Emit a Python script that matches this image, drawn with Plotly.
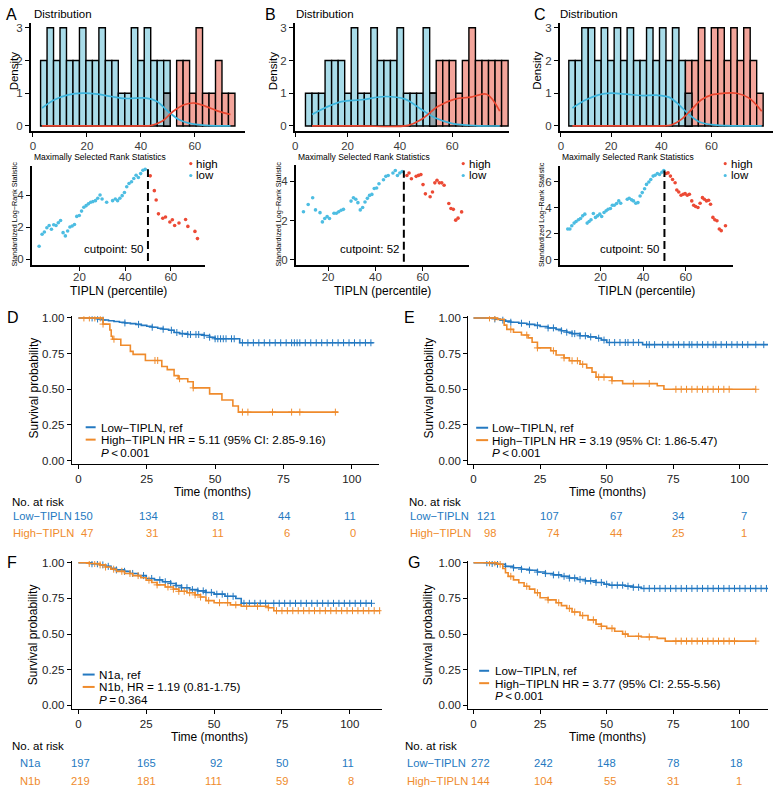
import numpy as np
import plotly.graph_objects as go

W, H = 778, 796
FONT = "Liberation Sans, Arial, Helvetica, sans-serif"

# ---------------- DATA ----------------
# Histograms (bin left edge, bin width, counts per bin)
a_bin_left, a_bin_width = 2.85, 2.4
a_low_counts = [2, 3, 2, 3, 2, 2, 3, 2, 2, 3, 2, 2, 1, 1, 3, 2, 3, 2, 2, 2] + [0] * 10
a_high_counts = [0] * 19 + [1, 0, 2, 2, 1, 3, 1, 1, 2, 1, 1]
b_bin_left, b_bin_width = 3.9, 2.5
b_low_counts = [1, 1, 1, 2, 2, 2, 1, 3, 1, 1, 3, 2, 2, 2, 3, 1, 1, 1, 3, 1] + [0] * 11
b_high_counts = [0] * 19 + [1, 2, 2, 2, 1, 2, 3, 2, 2, 2, 2, 2]
c_bin_left, c_bin_width = 3.17, 2.58
c_low_counts = [2, 2, 3, 3, 2, 3, 2, 3, 2, 3, 2, 2, 3, 2, 3, 2, 3, 2, 1] + [0] * 11
c_high_counts = [0] * 18 + [2, 2, 3, 2, 3, 3, 2, 3, 2, 3, 2, 1]

# Density curves
a_low_kde_x = [3.4, 8, 13, 18.5, 24, 29, 34, 38, 42, 46, 50, 54, 58, 64, 73.2]
a_low_kde_y = [0.55, 0.8, 0.95, 1.0, 0.97, 0.9, 0.84, 0.85, 0.85, 0.75, 0.45, 0.2, 0.08, 0.02, 0.0]
a_high_kde_x = [3.4, 20, 40, 44, 48, 52, 56, 60, 64, 68, 73.2]
a_high_kde_y = [0, 0, 0, 0.02, 0.15, 0.45, 0.65, 0.7, 0.6, 0.47, 0.35]
b_low_kde_x = [6.4, 16.6, 25.5, 34.4, 42.0, 48.3, 53.4, 59.8, 68.7, 78.2]
b_low_kde_y = [0.35, 0.72, 0.8, 0.9, 0.82, 0.5, 0.25, 0.08, 0.01, 0.0]
b_high_kde_x = [6.4, 24.2, 43.2, 48.2, 54.7, 61.0, 67.2, 73.2, 78.2]
b_high_kde_y = [0, 0, 0.02, 0.2, 0.6, 0.82, 0.88, 0.97, 0.45]
c_low_kde_x = [4.6, 10, 15, 20, 26, 32, 38, 43, 47, 51, 55, 60, 66, 80]
c_low_kde_y = [0.55, 0.8, 0.95, 1.0, 0.97, 0.93, 0.94, 0.88, 0.65, 0.35, 0.13, 0.04, 0.01, 0.0]
c_high_kde_x = [4.6, 25, 40, 44, 48, 52, 56, 60, 65, 70, 75, 80]
c_high_kde_y = [0, 0, 0, 0.03, 0.2, 0.5, 0.8, 0.95, 1.0, 1.0, 0.85, 0.45]

# Maximally selected rank statistics
a_cut = 50
a_low_x = [2.3, 3.6, 4.6, 5.7, 6.7, 7.7, 8.7, 9.7, 10.7, 11.7, 12.8, 13.8, 14.8, 15.8, 16.8, 17.8, 18.8, 19.9,
           20.9, 21.9, 22.9, 23.9, 24.9, 25.9, 27, 28, 29, 29.9, 31.9, 34.5, 35.7, 36.7, 37.7, 38.7, 39.7, 40.7,
           41.7, 42.8, 43.8, 44.8, 45.8, 46.8, 47.8, 48.8]
a_low_y = [0.82, 1.56, 1.7, 1.97, 2.11, 1.87, 2.15, 2.11, 2.28, 2.42, 1.66, 1.46, 1.76, 2.01, 2.07, 2.17, 2.67, 2.73,
           3.0, 3.24, 3.34, 3.45, 3.55, 3.59, 3.65, 3.8, 4.0, 3.75, 3.55, 3.65, 3.75, 3.65, 3.8, 3.96, 4.16, 4.51,
           4.72, 4.82, 5.03, 5.23, 5.09, 5.33, 5.54, 5.6]
a_high_x = [51, 52.8, 53.6, 54.6, 56.5, 57.7, 59.6, 60.7, 61.7, 63.6, 66.5, 67.5, 70.6, 71.7]
a_high_y = [5.19, 4.27, 3.69, 2.83, 2.56, 2.63, 2.32, 2.46, 2.11, 2.26, 2.48, 2.05, 1.74, 1.29]

b_cut = 52
b_low_x = [9.6, 11.6, 13.5, 14.7, 16.6, 17.6, 18.6, 19.6, 20.6, 22.5, 23.5, 24.5, 25.5, 26.5, 29.7, 30.7, 31.7,
           32.6, 33.6, 34.6, 35.6, 36.6, 37.5, 38.5, 39.5, 40.5, 41.5, 43.4, 44.4, 45.4, 47.4, 48.4, 49.3, 50.3, 51.3]
b_low_y = [2.45, 2.82, 3.16, 2.54, 2.40, 1.93, 2.10, 2.20, 2.10, 2.37, 2.37, 2.45, 2.52, 2.57, 2.99, 3.16, 3.08,
           2.91, 2.54, 2.66, 2.94, 3.13, 3.28, 3.33, 3.63, 3.66, 3.87, 4.08, 4.25, 4.29, 4.42, 4.55, 4.29, 4.42, 4.5]
b_high_x = [53.3, 54.2, 55.2, 57.2, 58.2, 59.2, 60.1, 61.1, 63.1, 64.1, 65.1, 66, 67, 68, 69, 71, 71.9, 72.9, 73.9,
            74.9, 76.4]
b_high_y = [4.29, 4.42, 4.13, 4.25, 4.30, 4.34, 3.83, 3.36, 3.21, 3.45, 3.92, 4.05, 3.92, 3.92, 3.80, 2.87, 2.61,
            2.57, 2.02, 2.12, 2.44]

c_cut = 50
c_low_x = [4.7, 5.7, 6.6, 7.7, 8.6, 9.7, 10.7, 11.7, 12.7, 13.8, 14.7, 15.6, 16.7, 17.7, 18.7, 19.7, 20.6, 21.7,
           22.7, 23.6, 24.7, 25.6, 26.5, 27.6, 28.6, 29.5, 32.6, 33.5, 34.6, 35.5, 36.6, 37.6, 38.6, 39.6, 40.7,
           41.6, 42.7, 43.6, 44.7, 45.6, 46.7, 47.7, 48.8, 49.7]
c_low_y = [2.37, 2.37, 2.62, 2.82, 2.95, 3.08, 3.18, 3.38, 3.51, 2.82, 2.95, 3.08, 3.56, 3.26, 3.38, 3.51, 3.33, 3.64,
           3.77, 3.89, 3.94, 4.2, 4.2, 4.33, 4.53, 4.35, 4.66, 4.73, 4.61, 4.53, 4.35, 4.4, 4.91, 5.17, 5.47,
           5.8, 5.98, 6.18, 6.44, 6.51, 6.64, 6.56, 6.74, 6.87]
c_high_x = [50.8, 51.7, 52.8, 53.8, 55, 55.8, 56.7, 57.8, 58.8, 59.7, 60.7, 61.7, 62.8, 63.7, 64.6, 65.7, 66.7, 67.8,
            68.7, 69.7, 70.7, 71.6, 72.7, 73.6, 74.6, 75.7, 76.6, 78.6]
c_high_y = [6.64, 6.69, 6.44, 6.18, 5.93, 5.37, 5.22, 4.96, 5.04, 5.09, 4.96, 5.04, 4.53, 4.2, 4.1, 4.02, 4.35, 4.78,
            4.66, 4.53, 4.58, 4.27, 3.26, 3.08, 3.0, 2.37, 2.24, 2.62]

# Kaplan-Meier curves (step times / survival) and censor times
d_low_t = [0, 7, 9, 11, 13, 15, 17, 19, 21, 23, 25, 27, 29, 31, 33, 35, 37, 40, 46, 48, 50, 59, 108]
d_low_s = [1, .993, .986, .98, .975, .97, .965, .96, .955, .948, .942, .935, .928, .921, .914, .898, .89, .884,
           .877, .865, .854, .826, .826]
d_low_cens = [5, 7, 9, 17, 22, 27, 31, 34, 36, 38, 40, 41, 43, 44, 46, 48, 50, 51, 52, 53, 54, 56, 57, 60, 62, 64,
              66, 68, 70, 72, 74, 76, 78, 79, 80, 81, 83, 85, 87, 89, 91, 93, 95, 97, 99, 101, 103, 105, 107]
d_high_t = [0, 9, 11.5, 12, 12.5, 15.5, 19, 20, 24.5, 30.5, 32.5, 35, 36.5, 40, 42, 48, 52.5, 56.5, 58.5, 95]
d_high_s = [1, .957, .915, .872, .851, .809, .766, .745, .702, .66, .638, .596, .574, .553, .51, .468, .425, .383,
            .34, .34]
d_high_cens = [2, 4, 6, 8, 9, 13, 28, 29, 37, 42, 60, 62, 71, 78, 81, 94]

e_low_t = [0, 8, 10, 12, 14, 17, 20, 23, 25, 28, 31, 33, 35, 37, 40, 43, 46, 48, 50, 63.5, 110.6]
e_low_s = [1, .993, .985, .978, .97, .963, .955, .948, .94, .93, .92, .91, .9, .89, .875, .867, .858, .845, .828,
           .813, .813]
e_low_cens = [8, 11, 14, 18, 21, 24, 28, 30, 33, 35, 37, 38, 40, 42, 44, 47, 49, 51, 53, 55, 57, 58, 60, 62, 65, 66,
              68, 71, 73, 75, 77, 79, 81, 82, 84, 86, 88, 90, 91, 93, 95, 97, 99, 101, 103, 106, 109]
e_high_t = [0, 9, 11.5, 12.5, 15, 18, 20.5, 22, 24, 29, 31, 34, 36, 40, 42.5, 44.5, 46, 52, 56, 69, 71.5, 106]
e_high_s = [1, .99, .95, .92, .9, .88, .86, .83, .79, .77, .74, .72, .70, .675, .65, .62, .585, .56, .54, .525,
            .50, .50]
e_high_cens = [6, 8, 14, 20, 24, 30, 34, 37, 39, 41, 47, 49, 52, 60, 66, 76, 78, 80, 82, 84, 86, 88, 90, 92, 94,
               96, 106]

f_n1a_t = [0, 5, 8, 10, 12, 14, 17, 19, 22, 25, 28, 31, 34, 36, 38, 41, 44, 47, 50, 54, 58, 60, 108]
f_n1a_s = [1, .993, .985, .975, .962, .95, .94, .925, .91, .89, .88, .867, .855, .84, .825, .812, .803, .792, .78,
           .765, .75, .716, .716]
f_n1a_cens = [5, 7, 9, 11, 14, 17, 20, 24, 27, 30, 32, 34, 36, 38, 40, 42, 44, 46, 47, 49, 51, 53, 55, 57, 61, 63,
              65, 67, 69, 72, 74, 76, 78, 80, 82, 84, 86, 88, 90, 92, 94, 96, 98, 100, 102, 104, 106, 108]
f_n1b_t = [0, 4, 8, 10, 12, 14, 17, 20, 23, 25, 27, 29, 32, 35, 37, 40, 43, 45, 47, 50, 56, 60, 70, 72, 111]
f_n1b_s = [1, .995, .985, .97, .955, .94, .925, .91, .895, .878, .862, .845, .83, .815, .80, .79, .775, .76, .735,
           .72, .705, .695, .685, .664, .664]
f_n1b_cens = [4, 6, 8, 10, 13, 16, 19, 22, 26, 29, 33, 35, 37, 39, 41, 43, 45, 48, 52, 55, 58, 62, 66, 70, 73, 75,
              77, 79, 81, 83, 85, 87, 89, 91, 93, 95, 97, 99, 101, 103, 105, 107, 109, 111]

g_low_t = [0, 6, 9, 12, 15, 18, 21, 24, 27, 30, 33, 36, 39, 42, 46, 49, 51, 57, 60, 63, 110.6]
g_low_s = [1, .995, .99, .975, .965, .955, .948, .935, .925, .915, .905, .893, .883, .873, .862, .85, .843, .836,
           .828, .82, .82]
g_low_cens = [5, 7, 9, 12, 15, 18, 21, 24, 27, 30, 32, 34, 36, 38, 40, 42, 44, 46, 48, 50, 52, 54, 56, 58, 60, 62,
              64, 66, 68, 70, 72, 74, 76, 78, 80, 82, 84, 86, 88, 90, 92, 94, 96, 98, 100, 102, 104, 106, 108, 110]
g_high_t = [0, 9, 11, 12, 13, 15, 17, 19, 21, 23, 25, 28, 31, 33, 35, 37, 40, 43, 46, 48, 50, 53, 56, 58, 63, 69,
            72, 106]
g_high_s = [1, .99, .96, .93, .905, .88, .86, .835, .815, .79, .755, .74, .72, .70, .68, .655, .63, .6, .57, .555,
            .54, .52, .5, .485, .48, .47, .451, .451]
g_high_cens = [6, 8, 10, 14, 20, 24, 28, 32, 36, 38, 41, 45, 48, 52, 57, 62, 66, 76, 78, 80, 82, 84, 86, 88, 90, 92,
               94, 96, 98, 106]

# Risk tables
risk_times = [0, 25, 50, 75, 100]
d_risk_low = [150, 134, 81, 44, 11]
d_risk_high = [47, 31, 11, 6, 0]
e_risk_low = [121, 107, 67, 34, 7]
e_risk_high = [98, 74, 44, 25, 1]
f_risk_n1a = [197, 165, 92, 50, 11]
f_risk_n1b = [219, 181, 111, 59, 8]
g_risk_low = [272, 242, 148, 78, 18]
g_risk_high = [144, 104, 55, 31, 1]

hist_xticks = [0, 20, 40, 60]
hist_yticks = [0, 1, 2, 3]
scat_xticks = [20, 40, 60]
km_xticks = [0, 25, 50, 75, 100]
km_yticks = [0, 0.25, 0.5, 0.75, 1.0]
km_yticktext = ["0.00", "0.25", "0.50", "0.75", "1.00"]

# ---------------- STYLE ----------------
HB, HR, HG = "#A9DCE9", "#F3A59B", "#95A5AC"
LB, LR = "#3DB5DD", "#E8462F"
PB, PR = "#4DBDE2", "#EC4A35"
KB, KO = "#2479C1", "#EF8B2C"
TICKC = "#3A3A3A"

fig = go.Figure()
layout = dict(width=W, height=H, margin=dict(l=0, r=0, t=0, b=0), paper_bgcolor="white",
              plot_bgcolor="rgba(0,0,0,0)", barmode="overlay", showlegend=False, font=dict(family=FONT))
annotations, shapes = [], []


def names(i):
    return ("xaxis" if i == 1 else f"xaxis{i}", "yaxis" if i == 1 else f"yaxis{i}",
            "x" if i == 1 else f"x{i}", "y" if i == 1 else f"y{i}")


def make_axes(i, xpx, ypx, xr, yr, xt, yt, ytt=None, lw=2.0, fs=11.5, col=TICKC, xstand=0):
    xk, yk, xa, ya = names(i)
    common = dict(showline=True, linecolor="black", linewidth=lw, ticks="outside", ticklen=4, tickwidth=1,
                  tickcolor="black", showgrid=False, zeroline=False, fixedrange=True,
                  tickfont=dict(size=fs, color=col, family=FONT))
    layout[xk] = dict(domain=[xpx[0] / W, xpx[1] / W], range=xr, anchor=ya, tickvals=xt,
                      ticklabelstandoff=xstand, **common)
    yd = dict(domain=[1 - ypx[1] / H, 1 - ypx[0] / H], range=yr, anchor=xa, tickvals=yt, **common)
    if ytt:
        yd["ticktext"] = ytt
    layout[yk] = yd
    return xa, ya


def txt(x, y, s, size, color="black", xa="left", ya="middle", angle=0, xref="paper", yref="paper", xshift=0):
    annotations.append(dict(x=x / W if xref == "paper" else x, y=1 - y / H if yref == "paper" else y, text=s,
                            showarrow=False, font=dict(size=size, color=color, family=FONT), xanchor=xa,
                            yanchor=ya, textangle=angle, xref=xref, yref=yref, xshift=xshift, borderpad=0))


# ---------------- HISTOGRAMS ----------------
def hist_panel(i, xpx, xr, left, width, low, high, lkx, lky, hkx, hky):
    xa, ya = make_axes(i, xpx, (19, 128), xr, [-0.15, 3.15], hist_xticks, hist_yticks, xstand=-1)
    centers = [left + width * (k + 0.5) for k in range(len(low))]
    lowv = [v if v > 0 else None for v in low]
    highv = [v if v > 0 else None for v in high]
    ov = [min(l, h) if (l > 0 and h > 0) else None for l, h in zip(low, high)]
    for vals, c in [(lowv, HB), (highv, HR), (ov, HG)]:
        fig.add_trace(go.Bar(x=centers, y=vals, width=width, xaxis=xa, yaxis=ya,
                             marker=dict(color=c, line=dict(color="black", width=1.4))))
    fig.add_trace(go.Scatter(x=lkx, y=lky, mode="lines", xaxis=xa, yaxis=ya,
                             line=dict(color=LB, width=1.7, shape="spline", smoothing=1)))
    fig.add_trace(go.Scatter(x=hkx, y=hky, mode="lines", xaxis=xa, yaxis=ya,
                             line=dict(color=LR, width=1.7, shape="spline", smoothing=1)))


hist_panel(1, (28, 243), [-0.74, 78.6], a_bin_left, a_bin_width, a_low_counts, a_high_counts,
           a_low_kde_x, a_low_kde_y, a_high_kde_x, a_high_kde_y)
hist_panel(2, (293, 508), [-0.15, 81.75], b_bin_left, b_bin_width, b_low_counts, b_high_counts,
           b_low_kde_x, b_low_kde_y, b_high_kde_x, b_high_kde_y)
hist_panel(3, (559, 773), [-0.4, 84.5], c_bin_left, c_bin_width, c_low_counts, c_high_counts,
           c_low_kde_x, c_low_kde_y, c_high_kde_x, c_high_kde_y)

for lx, letter, dx, tx in [(2, "A", 11, 30), (262, "B", 271, 293), (532, "C", 536.5, 558)]:
    txt(lx, 11, letter, 16)
    txt(tx, 10, "Distribution", 11.5)
    txt(dx, 67, "Density", 11.5, angle=-90, xa="center")


# ---------------- RANK STATISTIC SCATTERS ----------------
def scat_panel(i, xpx, ypx, xr, yr, yt, lx, ly, hx, hy, cut, title_x, ytitle_x, leg_x):
    xa, ya = make_axes(i, xpx, ypx, xr, yr, scat_xticks, yt, xstand=-3)
    fig.add_trace(go.Scatter(x=lx, y=ly, mode="markers", xaxis=xa, yaxis=ya,
                             marker=dict(size=3.6, color=PB)))
    fig.add_trace(go.Scatter(x=hx, y=hy, mode="markers", xaxis=xa, yaxis=ya,
                             marker=dict(size=3.6, color=PR)))
    top = max(max(ly), max(hy))
    fig.add_trace(go.Scatter(x=[cut, cut], y=[-0.1, top], mode="lines", xaxis=xa, yaxis=ya,
                             line=dict(color="black", width=2, dash="8px,4px")))
    txt(title_x, 154.5, "Maximally Selected Rank Statistics", 8.5)
    txt(ytitle_x, 212, "Standardized Log−Rank Statistic", 7.2, angle=-90, xa="center")
    txt((xpx[0] + xpx[1]) / 2, 289.5, "TIPLN (percentile)", 12, xa="center")
    txt(cut, 247.5, f"cutpoint: {cut}", 11.5, xa="right", xref=xa, xshift=-4)
    for yy, c, lab in [(161, PR, "high"), (173, PB, "low")]:
        shapes.append(dict(type="circle", xref="paper", yref="paper", fillcolor=c, line=dict(width=0),
                           x0=(leg_x - 1.6) / W, x1=(leg_x + 1.6) / W, y0=1 - (yy + 1.6) / H,
                           y1=1 - (yy - 1.6) / H))
        txt(leg_x + 4.5, yy, lab, 11.5)


scat_panel(4, (29, 203), (163, 263), [-0.87, 75.1], [-0.33, 5.83], [0, 2, 4],
           a_low_x, a_low_y, a_high_x, a_high_y, a_cut, 30, 11.5, 188.5)
scat_panel(5, (294, 468), (162, 263), [6.4, 79.6], [-0.25, 4.85], [0, 2, 4],
           b_low_x, b_low_y, b_high_x, b_high_y, b_cut, 295, 276.5, 462)
scat_panel(6, (559, 733), (163, 263), [1.0, 82.2], [-0.38, 7.25], [0, 2, 4, 6],
           c_low_x, c_low_y, c_high_x, c_high_y, c_cut, 560, 540, 725)


# ---------------- KAPLAN-MEIER ----------------
def s_at(times, surv, t):
    idx = np.searchsorted(np.array(times), t, side="right") - 1
    return [surv[j] for j in idx]


def km_panel(i, xpx, ypx, xr, curves):
    xa, ya = make_axes(i, xpx, ypx, xr, [-0.023, 1.012], km_xticks, km_yticks, km_yticktext,
                       lw=1.1, fs=11.5, col="#222222")
    for t, s, cens, c in curves:
        fig.add_trace(go.Scatter(x=t, y=s, mode="lines", xaxis=xa, yaxis=ya,
                                 line=dict(color=c, width=1.6, shape="hv")))
        fig.add_trace(go.Scatter(x=cens, y=s_at(t, s, cens), mode="markers", xaxis=xa, yaxis=ya,
                                 marker=dict(symbol="cross-thin", size=5, line=dict(width=1, color=c))))
    return xa


def km_text(letter, lx, ly, ytx, yty, ttx, tty, leg_x0, leg_x1, leg_tx, leg_y, leg_lines, ptxt):
    txt(lx, ly, letter, 16)
    txt(ytx, yty, "Survival probability", 12, angle=-90, xa="center")
    txt(ttx, tty, "Time (months)", 12, xa="center")
    for k, (lab, c) in enumerate(leg_lines):
        yy = leg_y + 12.5 * k
        shapes.append(dict(type="line", xref="paper", yref="paper", x0=leg_x0 / W, x1=leg_x1 / W,
                           y0=1 - yy / H, y1=1 - yy / H, line=dict(color=c, width=2)))
        txt(leg_tx, yy, lab, 11.7)
    txt(leg_tx, leg_y + 25, ptxt, 11.7)


def risk_table(i, dom, ydom, title_x, title_y, lab_x, rows):
    layout[f"xaxis{i}"] = dict(domain=[dom[0] / W, dom[1] / W], range=[0, 100], anchor=f"y{i}",
                               visible=False, fixedrange=True)
    layout[f"yaxis{i}"] = dict(domain=[1 - ydom[1] / H, 1 - ydom[0] / H], range=[0, 1], anchor=f"x{i}",
                               visible=False, fixedrange=True)
    xa = f"x{i}"
    txt(title_x, title_y, "No. at risk", 11.5)
    for lab, vals, c, yy in rows:
        txt(lab_x, yy, lab, 11.2, color=c)
        for t, v in zip(risk_times, vals):
            txt(t, yy, str(v), 11.2, color=c, xa="right", xref=xa)


km_panel(7, (69, 377), (315, 464), [-2.45, 109.8],
         [(d_low_t, d_low_s, d_low_cens, KB), (d_high_t, d_high_s, d_high_cens, KO)])
km_panel(8, (467, 768), (315, 464), [-2.0, 110.6],
         [(e_low_t, e_low_s, e_low_cens, KB), (e_high_t, e_high_s, e_high_cens, KO)])
km_panel(9, (69, 380), (562, 711), [-2.46, 111.7],
         [(f_n1a_t, f_n1a_s, f_n1a_cens, KB), (f_n1b_t, f_n1b_s, f_n1b_cens, KO)])
km_panel(10, (467, 768), (562, 711), [-2.0, 110.6],
         [(g_low_t, g_low_s, g_low_cens, KB), (g_high_t, g_high_s, g_high_cens, KO)])

P_LT = "<i>P</i>\u2009&lt;\u20090.001"
km_text("D", 3, 316, 31, 387, 210, 492, 83, 93, 97, 427,
        [("Low−TIPLN, ref", KB), ("High−TIPLN HR = 5.11 (95% CI: 2.85-9.16)", KO)], P_LT)
km_text("E", 402, 316, 427.5, 387, 607, 492, 475, 487, 490, 427.5,
        [("Low−TIPLN, ref", KB), ("High−TIPLN HR = 3.19 (95% CI: 1.86-5.47)", KO)], P_LT)
km_text("F", 3, 563, 31, 636, 207, 739, 80, 92, 95, 676.5,
        [("N1a, ref", KB), ("N1b, HR = 1.19 (0.81-1.75)", KO)], "<i>P</i>\u2009=\u20090.364")
km_text("G", 406, 563, 427.5, 636, 607, 739, 478, 488, 493, 672.7,
        [("Low−TIPLN, ref", KB), ("High−TIPLN HR = 3.77 (95% CI: 2.55-5.56)", KO)], P_LT)

risk_table(11, (91, 355), (510, 540), 8, 502.5, 9,
           [("Low−TIPLN", d_risk_low, KB, 516.7), ("High−TIPLN", d_risk_high, KO, 534)])
risk_table(12, (496, 748), (510, 540), 407, 502.5, 408,
           [("Low−TIPLN", e_risk_low, KB, 516.7), ("High−TIPLN", e_risk_high, KO, 534)])
risk_table(13, (88, 353), (758, 790), 8, 748.5, 16.5,
           [("N1a", f_risk_n1a, KB, 765.5), ("N1b", f_risk_n1b, KO, 783.5)])
risk_table(14, (490, 743), (758, 790), 403, 748.5, 405,
           [("Low−TIPLN", g_risk_low, KB, 766), ("High−TIPLN", g_risk_high, KO, 783.5)])

layout["annotations"] = annotations
layout["shapes"] = shapes
fig.update_layout(**layout)
fig.write_html("out.html", config={"displayModeBar": False},
               post_script="document.body.style.margin='0px';document.body.style.padding='0px';")
